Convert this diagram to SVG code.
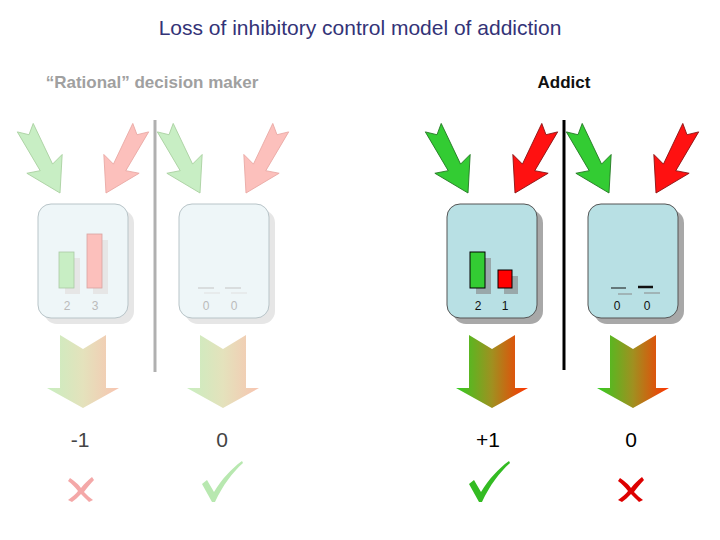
<svg xmlns="http://www.w3.org/2000/svg" width="720" height="540" viewBox="0 0 720 540">
<defs>
<linearGradient id="gA" x1="0" x2="1" y1="0" y2="0"><stop offset="0" stop-color="#33cc22"/><stop offset="0.5" stop-color="#a09020"/><stop offset="1" stop-color="#ff3300"/></linearGradient>
<linearGradient id="gF" x1="0" x2="1" y1="0" y2="0"><stop offset="0" stop-color="#c8eec0"/><stop offset="0.5" stop-color="#e4e2bc"/><stop offset="1" stop-color="#f8c4b0"/></linearGradient>
<path id="inA" d="M0,0 L-20,-33 L-7,-29 L-9,-74 L0,-66 L9,-74 L7,-29 L20,-33 Z"/>
<path id="outA" d="M-23,0 L0,14 L23,0 L23,53 L36,53 L0,73 L-36,53 L-23,53 Z"/>
<path id="cross" d="M-11,-11 C-5,-7 -1,-3 0,-1 C3,-5 7,-9 11,-12 L13,-9 C9,-5 5,0 3,3 C6,6 9,9 12,11 L8,13 C5,10 2,7 0,5 C-3,8 -6,11 -9,13 L-13,11 C-9,8 -5,5 -3,2 C-6,-2 -9,-5 -13,-8 Z"/>
</defs>
<style>
text{font-family:"Liberation Sans",Arial,sans-serif}
.fade .box{fill:#eef6f8;stroke:#b8c4c8}
.fade .sh{fill:#e6e6e6}
.add .box{fill:#b8e0e4;stroke:#555}
.add .sh{fill:#a8a8a8}
.lbl{font-size:12px;text-anchor:middle}
.fade .lbl{fill:#bbb}
.add .lbl{fill:#111}
.big{font-size:21px;text-anchor:middle}
</style>
<text x="360" y="35" class="big" fill="#333377" font-size="21">Loss of inhibitory control model of addiction</text>
<text x="152" y="88" font-size="17" font-weight="bold" fill="#a0a0a0" text-anchor="middle">“Rational” decision maker</text>
<text x="564" y="88" font-size="17" font-weight="bold" fill="#111" text-anchor="middle">Addict</text>
<g id="dividers">
<line x1="155" y1="120" x2="155" y2="372" stroke="#b0b0b0" stroke-width="3"/>
<line x1="564" y1="120" x2="564" y2="370" stroke="#000" stroke-width="3"/>
</g>
<g id="connectors">
<use href="#inA" transform="translate(60,193) rotate(-28)" fill="#c8eec4" stroke="#a8d0a0" stroke-width="0.8"/>
<use href="#inA" transform="translate(106,193) rotate(28)" fill="#fcc0bc" stroke="#e8a8a4" stroke-width="0.8"/>
<use href="#inA" transform="translate(200,193) rotate(-28)" fill="#c8eec4" stroke="#a8d0a0" stroke-width="0.8"/>
<use href="#inA" transform="translate(246,193) rotate(28)" fill="#fcc0bc" stroke="#e8a8a4" stroke-width="0.8"/>
<use href="#inA" transform="translate(468,193) rotate(-28)" fill="#33cc33" stroke="#227722" stroke-width="0.8"/>
<use href="#inA" transform="translate(515,193) rotate(28)" fill="#ff1111" stroke="#881111" stroke-width="0.8"/>
<use href="#inA" transform="translate(609,193) rotate(-28)" fill="#33cc33" stroke="#227722" stroke-width="0.8"/>
<use href="#inA" transform="translate(656,193) rotate(28)" fill="#ff1111" stroke="#881111" stroke-width="0.8"/>
<use href="#outA" transform="translate(83,335)" fill="url(#gF)"/>
<use href="#outA" transform="translate(223,335)" fill="url(#gF)"/>
<use href="#outA" transform="translate(492,335)" fill="url(#gA)"/>
<use href="#outA" transform="translate(633,335)" fill="url(#gA)"/>
</g>
<g id="rational1" class="fade" transform="translate(38,204)">
<rect class="sh" x="6" y="6" width="90" height="114" rx="13"/>
<rect class="box" x="0" y="0" width="90" height="114" rx="13"/>
<rect x="27" y="54" width="15" height="36" fill="#e6e6e6"/><rect x="55" y="36" width="15" height="54" fill="#e6e6e6"/>
<rect x="21" y="48" width="15" height="36" fill="#c8eec4" stroke="#aac8a6" stroke-width="0.8"/>
<rect x="49" y="30" width="15" height="54" fill="#fcc0bc" stroke="#d8a4a0" stroke-width="0.8"/>
<text class="lbl" x="29" y="106">2</text><text class="lbl" x="57" y="106">3</text>
</g>
<g id="rational2" class="fade" transform="translate(179,204)">
<rect class="sh" x="6" y="6" width="90" height="114" rx="13"/>
<rect class="box" x="0" y="0" width="90" height="114" rx="13"/>
<g stroke="#c4c4c4" stroke-width="1"><line x1="19" y1="84" x2="35" y2="84"/><line x1="46" y1="84" x2="62" y2="84"/></g>
<g stroke="#e0e0e0" stroke-width="1"><line x1="25" y1="89" x2="41" y2="89"/><line x1="52" y1="89" x2="68" y2="89"/></g>
<text class="lbl" x="27" y="106">0</text><text class="lbl" x="55" y="106">0</text>
</g>
<g id="addict1" class="add" transform="translate(447,204)">
<rect class="sh" x="6" y="6" width="90" height="114" rx="13"/>
<rect class="box" x="0" y="0" width="90" height="114" rx="13"/>
<rect x="29" y="54" width="15" height="36" fill="#99a8aa"/><rect x="57" y="72" width="14" height="18" fill="#99a8aa"/>
<rect x="23" y="48" width="15" height="36" fill="#33cc33" stroke="#000" stroke-width="1"/>
<rect x="51" y="66" width="14" height="18" fill="#ff0000" stroke="#000" stroke-width="1"/>
<text class="lbl" x="31" y="106">2</text><text class="lbl" x="58" y="106">1</text>
</g>
<g id="addict2" class="add" transform="translate(588,204)">
<rect class="sh" x="6" y="6" width="90" height="114" rx="13"/>
<rect class="box" x="0" y="0" width="90" height="114" rx="13"/>
<line x1="23" y1="84" x2="38" y2="84" stroke="#111" stroke-width="1"/>
<line x1="50" y1="83" x2="65" y2="83" stroke="#111" stroke-width="2.5"/>
<g stroke="#888" stroke-width="1"><line x1="30" y1="90" x2="44" y2="90"/><line x1="56" y1="89" x2="72" y2="89"/></g>
<text class="lbl" x="29" y="106">0</text><text class="lbl" x="59" y="106">0</text>
</g>
<g id="outcomes">
<text class="big" x="80" y="447" fill="#444">-1</text>
<text class="big" x="222" y="447" fill="#444">0</text>
<text class="big" x="488" y="447" fill="#000">+1</text>
<text class="big" x="631" y="447" fill="#000">0</text>
<use href="#cross" transform="translate(81,489)" fill="#f4a8a8"/>
<use href="#cross" transform="translate(631,489)" fill="#dd0000"/>
<path d="M202,484 L207,480 L214,492 C222,479 231,469 242,461 L243,463 C232,473 223,485 215,502 L212,502 Z" fill="#b8e8b0"/>
<path d="M469,484 L474,480 L481,492 C489,479 498,469 509,461 L510,463 C499,473 490,485 482,502 L479,502 Z" fill="#33bb22"/>
</g>
</svg>
